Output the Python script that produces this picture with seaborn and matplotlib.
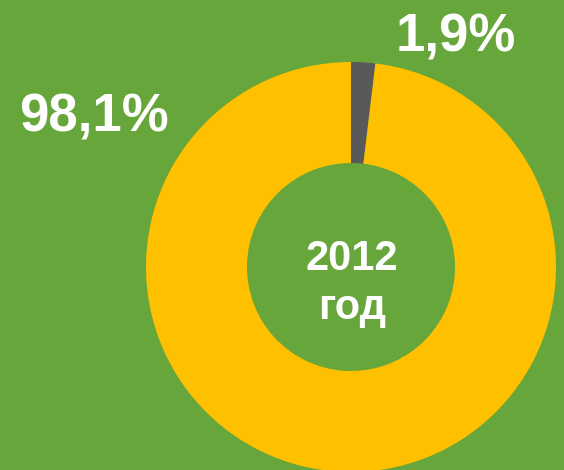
import matplotlib
matplotlib.use("Agg")
import matplotlib.pyplot as plt
import seaborn as sns

categories = ["Прочее", "Основное"]
values = [1.9, 98.1]
labels = ["1,9%", "98,1%"]
center_label = ["2012", "год"]
colors = ["#595959", "#FFC000"]
bg = "#66A63B"

sns.set_theme(style="white")
plt.rcParams["font.family"] = ["Liberation Sans", "DejaVu Sans"]

fig = plt.figure(figsize=(5.64, 4.70), dpi=100)
fig.patch.set_facecolor(bg)
ax = fig.add_axes([0, 0, 1, 1])
ax.set_facecolor(bg)

ax.pie(values, colors=colors, startangle=90, counterclock=False,
       center=(351, 203), radius=205,
       wedgeprops=dict(width=101, edgecolor="none", linewidth=0),
       frame=True)
ax.set_xlim(0, 564)
ax.set_ylim(0, 470)
ax.set_aspect("equal")
ax.axis("off")

ax.text(456, 470 - 37, labels[0], ha="center", va="center", color="white",
        fontsize=38, fontweight="bold")
ax.text(94, 470 - 117, labels[1], ha="center", va="center", color="white",
        fontsize=38, fontweight="bold")
ax.text(352, 470 - 259, center_label[0], ha="center", va="center", color="white",
        fontsize=30, fontweight="bold")
ax.text(352, 470 - 308, center_label[1], ha="center", va="center", color="white",
        fontsize=30, fontweight="bold")

fig.savefig("out.png", dpi=100, facecolor=bg)
